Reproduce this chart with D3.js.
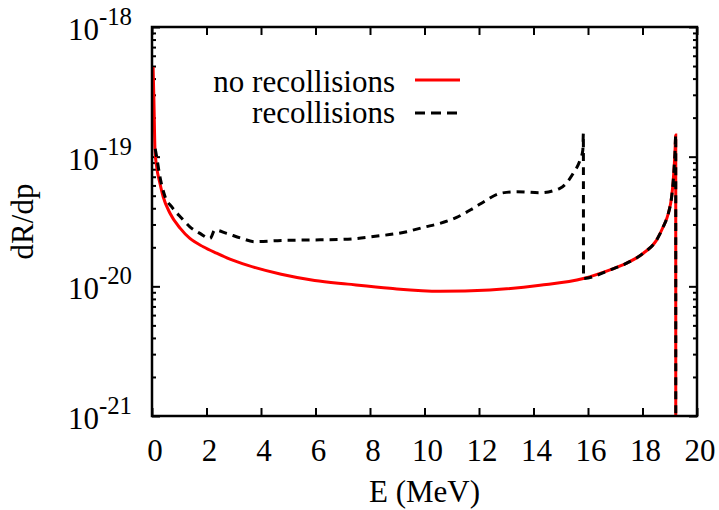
<!DOCTYPE html>
<html>

<head>
  <meta charset="utf-8" />
  <title>dR/dp spectrum</title>
  <style>
    body { margin: 0; background: #fff; }
    svg text { font-family: 'Liberation Serif', 'Times New Roman', 'DejaVu Serif', serif; }
  </style>
</head>

<body>
  <svg id="chart" width="719" height="510"></svg>

  <script src="https://cdn.jsdelivr.net/npm/d3@7"></script>

  <script>

    // E (MeV) and dR/dp
    var noRecollE = [0.04, 0.07, 0.11, 0.17, 0.29, 0.41, 0.66, 1.03, 1.39, 1.88, 2.37, 2.86, 3.52, 4.74, 5.97, 7.19, 8.73, 10.57, 12.40, 14.24, 15.83, 16.81, 17.42, 18.03, 18.52, 18.76, 18.95, 19.07, 19.13, 19.19, 19.22, 19.221]
    var noRecollR = [4.92e-19, 2.73e-19, 1.12e-19, 8.37e-20, 6.24e-20, 4.91e-20, 3.66e-20, 2.81e-20, 2.34e-20, 2.02e-20, 1.80e-20, 1.62e-20, 1.45e-20, 1.24e-20, 1.11e-20, 1.04e-20, 9.65e-21, 9.15e-21, 9.38e-21, 1.02e-20, 1.15e-20, 1.34e-20, 1.51e-20, 1.80e-20, 2.28e-20, 2.88e-20, 3.66e-20, 4.91e-20, 6.61e-20, 1.06e-19, 1.47e-19, 1e-22]

    var recollE = [0.12, 0.17, 0.29, 0.48, 0.72, 1.09, 1.39, 1.76, 2.13, 2.31, 2.74, 3.25, 3.77, 4.74, 5.97, 7.19, 8.12, 9.35, 9.96, 10.57, 11.18, 11.79, 12.28, 12.77, 13.38, 14.24, 14.97, 15.46, 15.71, 15.81, 15.83, 15.835, 16.81, 17.42, 18.03, 18.52, 18.76, 18.95, 19.07, 19.13, 19.19, 19.22, 19.221]
    var recollR = [1.15e-19, 1.00e-19, 7.02e-20, 4.91e-20, 4.11e-20, 3.35e-20, 2.88e-20, 2.56e-20, 2.34e-20, 2.72e-20, 2.56e-20, 2.36e-20, 2.21e-20, 2.26e-20, 2.28e-20, 2.31e-20, 2.42e-20, 2.64e-20, 2.85e-20, 3.06e-20, 3.40e-20, 4.00e-20, 4.63e-20, 5.21e-20, 5.37e-20, 5.27e-20, 5.70e-20, 7.45e-20, 9.42e-20, 1.12e-19, 1.51e-19, 1.15e-20, 1.34e-20, 1.51e-20, 1.80e-20, 2.28e-20, 2.88e-20, 3.66e-20, 4.91e-20, 6.61e-20, 1.06e-19, 1.47e-19, 1e-22]

    var xTicks = [0, 2, 4, 6, 8, 10, 12, 14, 16, 18, 20]
    var yTicks = [1e-18, 1e-19, 1e-20, 1e-21]
    var yTickExp = ['-18', '-19', '-20', '-21']
    var seriesNames = ['no recollisions', 'recollisions']

    draw()

    function draw() {
      var pLeft = 152, pRight = 697, pTop = 27, pBottom = 416
      var fontSize = 31
      var serif = "'Liberation Serif', 'Times New Roman', 'DejaVu Serif', serif"

      var svg = d3.select('#chart')
      var x = d3.scaleLinear().domain([0, 20]).range([pLeft, pRight])
      var y = d3.scaleLog().domain([1e-21, 1e-18]).range([pBottom, pTop])

      svg.append('clipPath').attr('id', 'plotclip')
        .append('rect')
        .attr('x', pLeft).attr('y', pTop)
        .attr('width', pRight - pLeft).attr('height', pBottom - pTop)

      // minor ticks for the log axis
      var minor = []
      for (var e = -21; e < -18; e++) {
        for (var m = 2; m <= 9; m++) minor.push(m * Math.pow(10, e))
      }

      function addAxis(axis, tx, ty) {
        var g = svg.append('g').attr('transform', 'translate(' + tx + ',' + ty + ')').call(axis)
        g.select('.domain').remove()
        g.selectAll('text').remove()
        g.selectAll('line').attr('stroke', '#000').attr('stroke-width', 2)
        return g
      }

      addAxis(d3.axisBottom(x).tickValues(xTicks).tickSize(-8), 0, pBottom)
      addAxis(d3.axisTop(x).tickValues(xTicks).tickSize(-8), 0, pTop)
      addAxis(d3.axisLeft(y).tickValues(yTicks).tickSize(-8), pLeft, 0)
      addAxis(d3.axisRight(y).tickValues(yTicks).tickSize(-8), pRight, 0)
      addAxis(d3.axisLeft(y).tickValues(minor).tickSize(-4), pLeft, 0)
      addAxis(d3.axisRight(y).tickValues(minor).tickSize(-4), pRight, 0)

      // tick labels
      svg.append('g').selectAll('text').data(xTicks).enter().append('text')
        .attr('x', function (d) { return x(d) + 3 })
        .attr('y', 461)
        .attr('text-anchor', 'middle')
        .attr('font-size', fontSize)
        .text(function (d) { return d })

      var yl = svg.append('g').selectAll('text').data(yTicks).enter().append('text')
        .attr('x', 132)
        .attr('y', function (d) { return y(d) + 13 })
        .attr('text-anchor', 'end')
        .attr('font-size', fontSize)
      yl.append('tspan').text('10')
      yl.append('tspan')
        .attr('dy', -15)
        .attr('font-size', fontSize * 0.8)
        .text(function (d, i) { return yTickExp[i] })

      svg.append('text')
        .attr('x', x(10))
        .attr('y', 502)
        .attr('text-anchor', 'middle')
        .attr('font-size', fontSize)
        .text('E (MeV)')

      svg.append('text')
        .attr('transform', 'translate(33,' + ((pTop + pBottom) / 2) + ') rotate(-90)')
        .attr('text-anchor', 'middle')
        .attr('font-size', fontSize)
        .text('dR/dp')

      var line = d3.line()
        .x(function (d) { return x(d[0]) })
        .y(function (d) { return y(d[1]) })
        .curve(d3.curveMonotoneX)

      var plot = svg.append('g').attr('clip-path', 'url(#plotclip)')

      plot.append('path')
        .datum(d3.zip(noRecollE, noRecollR))
        .attr('d', line)
        .attr('fill', 'none')
        .attr('stroke', '#ff0000')
        .attr('stroke-width', 3)

      plot.append('path')
        .datum(d3.zip(recollE, recollR))
        .attr('d', line)
        .attr('fill', 'none')
        .attr('stroke', '#000')
        .attr('stroke-width', 3)
        .attr('stroke-dasharray', '8,6')

      svg.append('rect')
        .attr('x', pLeft).attr('y', pTop)
        .attr('width', pRight - pLeft).attr('height', pBottom - pTop)
        .attr('fill', 'none').attr('stroke', '#000').attr('stroke-width', 2.5)

      // legend
      var legendY = [80, 113]
      var legendText = [92, 123]
      svg.append('g').selectAll('text').data(seriesNames).enter().append('text')
        .attr('x', 395)
        .attr('y', function (d, i) { return legendText[i] })
        .attr('text-anchor', 'end')
        .attr('font-size', fontSize)
        .text(function (d) { return d })

      svg.append('line')
        .attr('x1', 415).attr('x2', 460)
        .attr('y1', legendY[0]).attr('y2', legendY[0])
        .attr('stroke', '#ff0000').attr('stroke-width', 3)

      svg.append('line')
        .attr('x1', 415).attr('x2', 457)
        .attr('y1', legendY[1]).attr('y2', legendY[1])
        .attr('stroke', '#000').attr('stroke-width', 3)
        .attr('stroke-dasharray', '10,6')

      svg.selectAll('text').style('font-family', serif).style('fill', '#000')
    }

  </script>

</body>

</html>
